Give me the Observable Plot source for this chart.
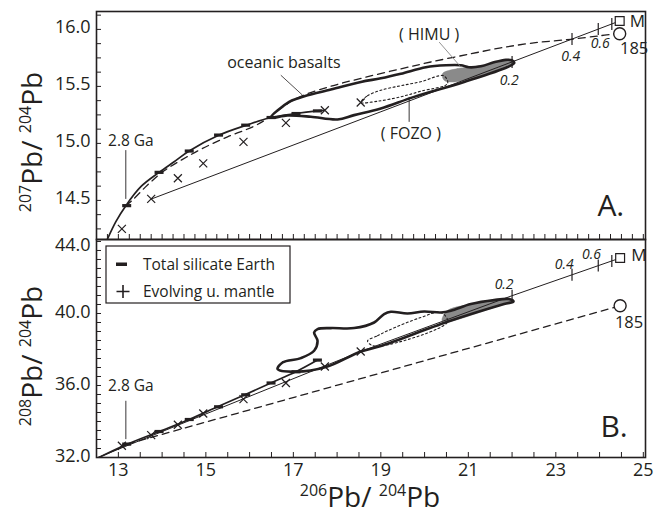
<!DOCTYPE html>
<html><head><meta charset="utf-8">
<script src="https://cdn.jsdelivr.net/npm/d3@7"></script>
<script src="https://cdn.jsdelivr.net/npm/@observablehq/plot@0.6"></script>
<style>
html,body{margin:0;padding:0;background:#fff;}
#wrap{position:relative;width:655px;height:517px;font-family:"Open Sans",sans-serif;color:#231f20;}
#wrap svg{display:block;}
#top{position:absolute;left:0;top:0;}
#bot{position:absolute;left:0;top:239px;}
#over{position:absolute;left:0;top:0;pointer-events:none;}
</style></head><body>
<div id="wrap"><div id="top"></div><div id="bot"></div><svg id="over" width="655" height="517"></svg></div>
<script>
const ink = "#231f20";
const grey = "#8a8a8a";

// ---------- shared x values ----------
const xTickLabels = [13, 15, 17, 19, 21, 23, 25];
// total silicate Earth tick marks (x positions)
const tseTickX = [13.19, 13.93, 14.62, 15.29, 15.91, 16.49, 17.06, 17.55];
// evolving upper mantle crosses (x positions)
const mantleX = [13.08, 13.75, 14.36, 14.94, 15.86, 16.83, 17.72, 18.54];
// tick marks on the evolution line to M (x positions and labels)
const evoTickX = [22.0, 23.37, 23.97, 24.28];
const evoLabels = ["0.2", "0.4", "0.6"];

// ---------- panel A: 207Pb/204Pb ----------
const yLabelsA = [14.5, 15.0, 15.5, 16.0];
const tseAX = [12.753, 12.943, 13.171, 13.514, 13.933, 14.275, 14.618, 15.304, 15.930, 16.486, 17.057, 17.553, 17.70];
const tseAY = [14.163, 14.314, 14.454, 14.620, 14.746, 14.839, 14.933, 15.073, 15.160, 15.227, 15.262, 15.285, 15.290];
const tseTickAY = [14.454, 14.746, 14.933, 15.073, 15.160, 15.227, 15.262, 15.285];
const mantleAY = [14.25, 14.513, 14.694, 14.825, 15.014, 15.18, 15.291, 15.359];
const evoAX = [13.76, 24.46];
const evoAY = [14.513, 16.074];
const evoTickAY = [15.715, 15.915, 16.003, 16.048];
const dashAX = [13.171, 13.325, 13.667, 14.047, 14.467, 14.925, 15.496, 16.104, 16.44, 16.783, 17.126, 17.857, 18.611, 19.457, 20.143, 21.057, 21.743, 22.497, 23.343, 23.983, 24.349];
const dashAY = [14.454, 14.504, 14.635, 14.760, 14.860, 14.956, 15.058, 15.151, 15.226, 15.326, 15.405, 15.501, 15.577, 15.654, 15.714, 15.786, 15.838, 15.882, 15.913, 15.943, 15.961];
const basaltAX = [16.486, 16.904, 17.096, 17.325, 17.857, 18.543, 19.0, 19.457, 20.029, 20.486, 20.829, 21.011, 21.286, 21.583, 21.857, 21.994, 22.051, 21.896, 20.904, 19.761, 19.0, 18.39, 18.01, 17.4, 16.867];
const basaltAY = [15.227, 15.364, 15.394, 15.423, 15.472, 15.539, 15.571, 15.611, 15.668, 15.685, 15.685, 15.668, 15.676, 15.711, 15.733, 15.729, 15.707, 15.670, 15.539, 15.408, 15.306, 15.248, 15.210, 15.234, 15.245];
const himuAX = [20.41, 20.753, 21.057, 21.286, 21.667, 21.971, 22.051, 21.896, 21.286, 20.675, 20.447];
const himuAY = [15.612, 15.656, 15.670, 15.685, 15.714, 15.729, 15.707, 15.670, 15.593, 15.539, 15.554];
const fozoAX = [18.543, 18.696, 19.0, 19.457, 19.914, 20.44, 20.525, 19.914, 19.457, 18.925];
const fozoAY = [15.359, 15.418, 15.466, 15.506, 15.541, 15.593, 15.525, 15.458, 15.409, 15.370];
const pointMA = [24.46, 16.074];
const point185A = [24.46, 15.962];

// ---------- panel B: 208Pb/204Pb ----------
const yLabelsB = [32.0, 36.0, 40.0, 44.0];
const tseBX = [12.554, 13.21, 13.933, 14.618, 15.267, 15.891, 16.486, 17.057, 17.553];
const tseBY = [32.0, 32.744, 33.444, 34.111, 34.817, 35.483, 36.139, 36.761, 37.411];
const tseTickBY = [32.744, 33.444, 34.111, 34.817, 35.483, 36.139, 36.761, 37.411];
const mantleBY = [32.65, 33.244, 33.817, 34.444, 35.244, 36.139, 37.056, 37.889];
const evoBX = [12.51, 18.54, 21.99, 24.47];
const evoBY = [31.98, 37.889, 40.98, 43.08];
const evoTickBY = [40.98, 42.15, 42.66, 42.92];
const dashBX = [13.21, 24.47];
const dashBY = [32.744, 40.43];
const basaltBX = [16.639, 16.753, 17.171, 17.475, 17.553, 17.475, 17.553, 17.857, 18.39, 18.847, 19.075, 19.229, 19.61, 19.99, 20.371, 20.6, 21.057, 21.59, 21.933, 22.033, 21.818, 20.525, 19.0, 18.543, 17.743, 17.057];
const basaltBY = [36.911, 37.278, 37.522, 37.928, 38.483, 38.944, 39.133, 39.189, 39.189, 39.5, 39.967, 40.094, 40.0, 40.111, 40.056, 40.15, 40.522, 40.744, 40.8, 40.667, 40.522, 39.539, 38.189, 37.889, 37.022, 36.761];
const himuBX = [20.4, 20.514, 21.057, 21.59, 21.933, 22.033, 21.818, 20.525];
const himuBY = [39.594, 40.15, 40.522, 40.744, 40.8, 40.667, 40.522, 39.539];
const fozoBX = [18.696, 18.925, 19.153, 19.914, 20.371, 20.525, 19.0, 18.771];
const fozoBY = [38.483, 38.761, 39.039, 39.778, 40.056, 39.539, 38.189, 38.261];
const pointMB = [24.47, 43.08];
const point185B = [24.47, 40.43];

// ---------- helpers ----------
const pts = (xs, ys) => xs.map((x, i) => ({x, y: ys[i]}));
const dashSym = {draw(c) { c.moveTo(-4.5, -1.6); c.lineTo(4.5, -1.6); c.lineTo(4.5, 1.6); c.lineTo(-4.5, 1.6); c.closePath(); }};
const timesSym = {draw(c) { c.moveTo(-4, -4); c.lineTo(4, 4); c.moveTo(4, -4); c.lineTo(-4, 4); }};
const vSym = {draw(c) { c.moveTo(0, -6); c.lineTo(0, 6); }};
const font = "'Open Sans', sans-serif";
const X_DOMAIN = [12.5, 25.05];
const W = 655, ML = 96, MR = 10;

function panelMarks(o) {
  return [
    Plot.tickX(o.xMinor, {x: d => d, insetTop: o.plotH - 5, stroke: ink, strokeWidth: 1}),
    Plot.tickY(o.yMinor, {y: d => d, insetRight: (W - ML - MR) - 5, stroke: ink, strokeWidth: 1}),
    Plot.line(pts(o.himuX, o.himuY), {x: "x", y: "y", fill: grey, stroke: grey, strokeWidth: 0.5, curve: "catmull-rom-closed"}),
    Plot.line(pts(o.fozoX, o.fozoY), {x: "x", y: "y", stroke: ink, strokeWidth: 1.1, strokeDasharray: "2,2.5", curve: "catmull-rom-closed"}),
    Plot.line(pts(o.basX, o.basY), {x: "x", y: "y", stroke: ink, strokeWidth: 2.6, curve: "catmull-rom-closed", strokeLinejoin: "round"}),
    Plot.line(pts(o.dashX, o.dashY), {x: "x", y: "y", stroke: ink, strokeWidth: 1.3, strokeDasharray: "7,5", curve: "catmull-rom", clip: true}),
    Plot.line(pts(o.evoX, o.evoY), {x: "x", y: "y", stroke: ink, strokeWidth: 1, clip: true}),
    Plot.line(pts(o.tseX, o.tseY), {x: "x", y: "y", stroke: ink, strokeWidth: 1.7, curve: "catmull-rom", clip: true}),
    Plot.dot(pts(tseTickX, o.tseTickY), {x: "x", y: "y", symbol: dashSym, fill: ink, stroke: null}),
    Plot.dot(pts(mantleX, o.mantleY), {x: "x", y: "y", symbol: timesSym, fill: "none", stroke: ink, strokeWidth: 1.2}),
    Plot.dot(pts(evoTickX, o.evoTickY), {x: "x", y: "y", symbol: vSym, fill: "none", stroke: ink, strokeWidth: 1.2}),
    Plot.dot([o.M], {x: d => d[0], y: d => d[1], symbol: "square", r: 5, fill: "white", stroke: ink, strokeWidth: 1.2}),
    Plot.dot([o.P185], {x: d => d[0], y: d => d[1], r: 6, fill: "white", stroke: ink, strokeWidth: 1.4}),
    Plot.frame({stroke: ink, strokeWidth: 1.6})
  ];
}

// ---------- panel A ----------
const plotA = Plot.plot({
  width: W, height: 239, marginTop: 11, marginBottom: 0, marginLeft: ML, marginRight: MR,
  style: {fontFamily: font, color: ink, background: "white", overflow: "visible"},
  x: {domain: X_DOMAIN, axis: null},
  y: {domain: [14.157, 16.157], axis: null},
  marks: [
    ...panelMarks({
      plotH: 228, xMinor: d3.range(12.5, 25.01, 0.25), yMinor: d3.range(14.25, 16.13, 0.125),
      himuX: himuAX, himuY: himuAY, fozoX: fozoAX, fozoY: fozoAY, basX: basaltAX, basY: basaltAY,
      dashX: dashAX, dashY: dashAY, evoX: evoAX, evoY: evoAY, tseX: tseAX, tseY: tseAY,
      tseTickY: tseTickAY, mantleY: mantleAY, evoTickY: evoTickAY, M: pointMA, P185: point185A
    }),
    Plot.text(yLabelsA, {y: d => d, text: d => d.toFixed(1), frameAnchor: "left", textAnchor: "end", dx: -6, dy: -2, fontSize: 18, fill: ink}),
    Plot.link([{x1: 16.714, y1: 15.598, x2: 17.21, y2: 15.423}], {x1: "x1", y1: "y1", x2: "x2", y2: "y2", stroke: ink, strokeWidth: 0.8}),
    Plot.link([{x1: 20.333, y1: 15.889, x2: 20.829, y2: 15.67}], {x1: "x1", y1: "y1", x2: "x2", y2: "y2", stroke: "#777", strokeWidth: 0.8}),
    Plot.link([{x1: 19.647, y1: 15.408, x2: 19.647, y2: 15.189}], {x1: "x1", y1: "y1", x2: "x2", y2: "y2", stroke: ink, strokeWidth: 0.9}),
    Plot.link([{x1: 13.17, y1: 14.941, x2: 13.17, y2: 14.513}], {x1: "x1", y1: "y1", x2: "x2", y2: "y2", stroke: ink, strokeWidth: 0.9}),
    Plot.text([{x: 16.783, y: 15.703, t: "oceanic basalts"}, {x: 20.104, y: 15.948, t: "( HIMU )"}, {x: 19.686, y: 15.087, t: "( FOZO )"}],
      {x: "x", y: "y", text: "t", fontSize: 16, fill: ink}),
    Plot.text([{x: 13.286, y: 15.023, t: "2.8 Ga"}], {x: "x", y: "y", text: "t", fontSize: 15.5, fill: ink}),
    Plot.text(pts([21.933, 23.343, 24.013], [15.554, 15.758, 15.875]).map((d, i) => ({...d, t: evoLabels[i]})),
      {x: "x", y: "y", text: "t", fontSize: 14, fontStyle: "italic", fill: ink}),
    Plot.text([{x: 24.79, y: 15.831, t: "185"}], {x: "x", y: "y", text: "t", fontSize: 16.5, fill: ink}),
    Plot.text([{x: 24.867, y: 16.073, t: "M"}], {x: "x", y: "y", text: "t", fontSize: 17, fill: ink}),
    Plot.text([{x: 24.257, y: 14.445, t: "A."}], {x: "x", y: "y", text: "t", fontSize: 30, fill: ink})
  ]
});
document.getElementById("top").appendChild(plotA);

// ---------- panel B ----------
const plotB = Plot.plot({
  width: W, height: 278, marginTop: 0, marginBottom: 60, marginLeft: ML, marginRight: MR,
  style: {fontFamily: font, color: ink, background: "transparent", overflow: "visible"},
  x: {domain: X_DOMAIN, axis: null},
  y: {domain: [32, 44.11], axis: null},
  marks: [
    ...panelMarks({
      plotH: 218, xMinor: d3.range(12.5, 25.01, 0.5), yMinor: d3.range(32.5, 44.01, 0.5),
      himuX: himuBX, himuY: himuBY, fozoX: fozoBX, fozoY: fozoBY, basX: basaltBX, basY: basaltBY,
      dashX: dashBX, dashY: dashBY, evoX: evoBX, evoY: evoBY, tseX: tseBX, tseY: tseBY,
      tseTickY: tseTickBY, mantleY: mantleBY, evoTickY: evoTickBY, M: pointMB, P185: point185B
    }),
    Plot.text(yLabelsB.slice(0, 3), {y: d => d, text: d => d.toFixed(1), frameAnchor: "left", textAnchor: "end", dx: -6, dy: -1, fontSize: 18, fill: ink}),
    Plot.text(yLabelsB.slice(3), {y: d => d, text: d => d.toFixed(1), frameAnchor: "left", textAnchor: "end", dx: -6, dy: 4, fontSize: 18, fill: ink}),
    Plot.text(xTickLabels, {x: d => d, text: d => String(d), frameAnchor: "bottom", lineAnchor: "top", dy: 6, fontSize: 18, fill: ink}),
    Plot.link([{x1: 13.171, y1: 35.15, x2: 13.171, y2: 33.02}], {x1: "x1", y1: "y1", x2: "x2", y2: "y2", stroke: ink, strokeWidth: 0.9}),
    Plot.text([{x: 13.286, y: 35.983, t: "2.8 Ga"}], {x: "x", y: "y", text: "t", fontSize: 15.5, fill: ink}),
    Plot.text(pts([21.818, 23.19, 23.816], [41.633, 42.744, 43.261]).map((d, i) => ({...d, t: evoLabels[i]})),
      {x: "x", y: "y", text: "t", fontSize: 14, fontStyle: "italic", fill: ink}),
    Plot.text([{x: 24.675, y: 39.5, t: "185"}], {x: "x", y: "y", text: "t", fontSize: 16.5, fill: ink}),
    Plot.text([{x: 24.9, y: 43.206, t: "M"}], {x: "x", y: "y", text: "t", fontSize: 17, fill: ink}),
    Plot.text([{x: 24.33, y: 33.667, t: "B."}], {x: "x", y: "y", text: "t", fontSize: 30, fill: ink})
  ]
});
document.getElementById("bot").appendChild(plotB);

// ---------- titles and legend (overlay) ----------
const over = d3.select("#over").style("font-family", font);
function isoTitle(g, a, b) {
  const t = g.append("text").attr("text-anchor", "middle").attr("fill", ink).attr("font-size", 28);
  t.append("tspan").attr("font-size", 16).attr("dy", -11).text(a);
  t.append("tspan").attr("dy", 11).text("Pb/ ");
  t.append("tspan").attr("font-size", 16).attr("dy", -11).text(b);
  t.append("tspan").attr("dy", 11).text("Pb");
}
isoTitle(over.append("g").attr("transform", "translate(42,142) rotate(-90)"), "207", "204");
isoTitle(over.append("g").attr("transform", "translate(42,356) rotate(-90)"), "208", "204");
isoTitle(over.append("g").attr("transform", "translate(370,507)"), "206", "204");

const leg = over.append("g");
leg.append("rect").attr("x", 106).attr("y", 246).attr("width", 184).attr("height", 57)
  .attr("fill", "white").attr("stroke", ink).attr("stroke-width", 1.2);
leg.append("rect").attr("x", 116).attr("y", 262.5).attr("width", 11).attr("height", 3.5).attr("fill", ink);
leg.append("path").attr("d", "M116.5,291.5h13M123,285v13").attr("stroke", ink).attr("stroke-width", 1.6);
leg.append("text").attr("x", 143).attr("y", 269.5).attr("font-size", 15.5).attr("fill", ink).text("Total silicate Earth");
leg.append("text").attr("x", 143).attr("y", 297).attr("font-size", 15.5).attr("fill", ink).text("Evolving u. mantle");
</script></body></html>
